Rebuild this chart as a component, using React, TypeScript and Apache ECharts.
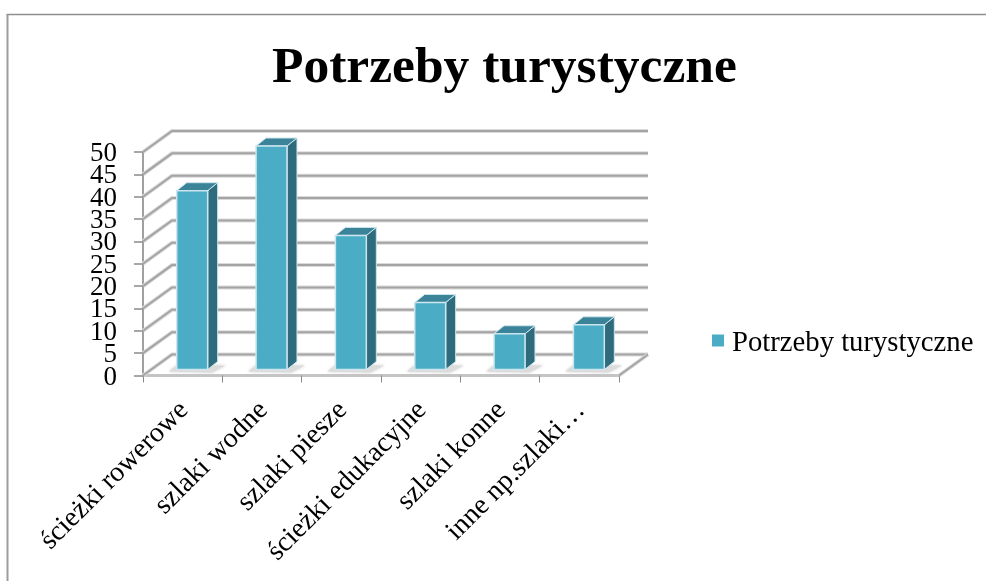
import React, { useEffect, useRef } from "react";
import * as echarts from "echarts";

const TITLE = "Potrzeby turystyczne";
const categories = ["ścieżki rowerowe", "szlaki wodne", "szlaki piesze", "ścieżki edukacyjne", "szlaki konne", "inne np.szlaki…"];
const values = [40, 50, 30, 15, 8, 10];
const yTicks = [0, 5, 10, 15, 20, 25, 30, 35, 40, 45, 50];
const yLabelsA = [0, 10, 20, 30, 40, 50];
const yLabelsB = [5, 15, 25, 35, 45];

const FONT = "'Liberation Serif', serif";
const DX = 29;
const DY = -21;

const halo = { stroke: "#dadada", lineWidth: 4, fill: "none" };
const core = { stroke: "#a4a4a4", lineWidth: 2, fill: "none" };

function ruled(points: number[][]) {
  return [
    { type: "polyline", shape: { points }, style: halo },
    { type: "polyline", shape: { points }, style: core },
  ];
}

const yLabelStyle = { margin: 26, fontFamily: FONT, fontSize: 27, lineHeight: 20, color: "#000" };

export default function App() {
  const ref = useRef<HTMLDivElement>(null);
  useEffect(() => {
    const chart = echarts.init(ref.current!, null, { renderer: "svg" });
    chart.setOption({
      animation: false,
      backgroundColor: "#ffffff",
      title: {
        text: TITLE,
        left: 272,
        top: 38,
        padding: 0,
        textStyle: { fontFamily: FONT, fontWeight: "bold", fontSize: 51.5, color: "#000" },
      },
      legend: {
        left: 712,
        top: 326,
        padding: 0,
        itemWidth: 12,
        itemHeight: 12,
        itemGap: 0,
        data: [{ name: TITLE, icon: "rect" }],
        textStyle: { fontFamily: FONT, fontSize: 28.7, color: "#000", padding: [0, 0, 0, 3] },
      },
      grid: { left: 143, right: 986 - 619, top: 152, bottom: 581 - 375.5 },
      xAxis: {
        type: "category",
        data: categories,
        boundaryGap: true,
        axisLine: { show: true, lineStyle: { color: "#c4c4c4", width: 3 } },
        axisTick: { show: true, length: 7, alignWithLabel: false, lineStyle: { color: "#8a8a8a", width: 1 } },
        axisLabel: { rotate: 45, interval: 0, margin: 29, fontFamily: FONT, fontSize: 28, color: "#000" },
      },
      yAxis: [
        {
          type: "value",
          min: 0,
          max: 50,
          interval: 5,
          splitLine: { show: false },
          axisLine: { show: true, lineStyle: { color: "#a0a0a0", width: 2 } },
          axisTick: { show: true, length: 9, lineStyle: { color: "#8a8a8a", width: 1.5 } },
          axisLabel: { ...yLabelStyle, customValues: yLabelsA },
        },
        {
          type: "value",
          position: "left",
          min: 0,
          max: 50,
          interval: 5,
          splitLine: { show: false },
          axisLine: { show: false },
          axisTick: { show: false },
          axisLabel: { ...yLabelStyle, customValues: yLabelsB },
        },
      ],
      series: [
        {
          type: "custom",
          silent: true,
          z: 1,
          clip: false,
          data: yTicks.map((v) => [0, v]),
          renderItem: (params: any, api: any) => {
            const v = api.value(1);
            const y = api.coord([0, v])[1];
            const cs = params.coordSys;
            const left = cs.x;
            const right = cs.x + cs.width;
            const children: any[] = [];
            children.push(...ruled([[left, y], [left + DX, y + DY], [right + DX, y + DY]]));
            if (v === 0) {
              children.push(...ruled([[right, y], [right + DX, y + DY]]));
            }
            return { type: "group", children };
          },
        },
        {
          type: "custom",
          name: TITLE,
          z: 2,
          clip: false,
          itemStyle: { color: "#4BACC6" },
          data: values.map((v, i) => [i, v]),
          renderItem: (_params: any, api: any) => {
            const i = api.value(0);
            const top = api.coord([i, api.value(1)]);
            const base = api.coord([i, 0]);
            const band = api.size([1, 0])[0];
            const w = band * 0.39;
            const x0 = top[0] - band * 0.075;
            const x1 = x0 + w;
            const shift = -6;
            const yT = top[1] + shift;
            const yB = base[1] + shift;
            const dx = 10;
            const dy = -8;
            const edge = "#cde6ee";
            return {
              type: "group",
              children: [
                {
                  type: "polygon",
                  shape: { points: [[x0 - 8, yB + 2], [x0, yB - 4], [x1 + dx + 8, yB - 4], [x1 + 4, yB + 3]] },
                  style: { fill: "#dcdcdc", shadowBlur: 3, shadowColor: "#cccccc" },
                },
                {
                  type: "polygon",
                  shape: { points: [[x1, yT], [x1 + dx, yT + dy], [x1 + dx, yB + dy], [x1, yB]] },
                  style: { fill: "#2E6B7D", stroke: edge, lineWidth: 1 },
                },
                {
                  type: "polygon",
                  shape: { points: [[x0, yT], [x0 + dx, yT + dy], [x1 + dx, yT + dy], [x1, yT]] },
                  style: { fill: "#3A8398", stroke: edge, lineWidth: 1 },
                },
                {
                  type: "rect",
                  shape: { x: x0, y: yT, width: w, height: yB - yT },
                  style: { fill: "#4BACC6", stroke: edge, lineWidth: 1.5 },
                },
              ],
            };
          },
        },
      ],
      graphic: [
        { type: "line", silent: true, shape: { x1: 6.5, y1: 14.5, x2: 986, y2: 14.5 }, style: { stroke: "#8f8f8f", lineWidth: 1.5 } },
        { type: "line", silent: true, shape: { x1: 7.5, y1: 14, x2: 7.5, y2: 581 }, style: { stroke: "#9c9c9c", lineWidth: 2 } },
      ],
    });
    return () => chart.dispose();
  }, []);
  return <div ref={ref} style={{ position: "fixed", left: 0, top: 0, width: 986, height: 581, filter: "blur(0.4px)" }} />;
}
